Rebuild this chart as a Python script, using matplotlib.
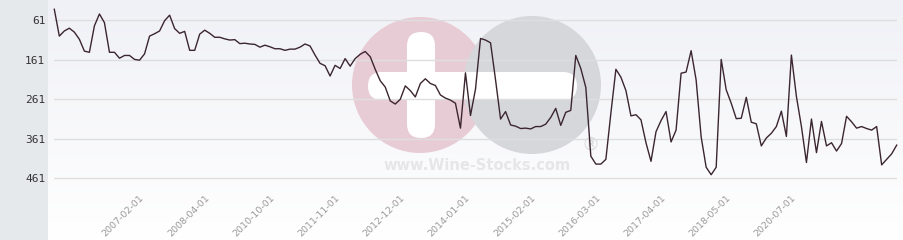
import numpy as np
import matplotlib
matplotlib.use("Agg")
import matplotlib.pyplot as plt
import matplotlib.transforms as mtransforms
from matplotlib.patches import Circle, FancyBboxPatch, Rectangle

# ---- data ----
values = [
    33, 101, 88, 81, 91, 109, 139, 142, 75, 45,
    67, 142, 142, 157, 150, 150, 160, 162, 146, 101,
    95, 88, 62, 48, 82, 94, 89, 137, 137, 96,
    86, 94, 104, 104, 108, 111, 110, 120, 119, 121,
    122, 129, 124, 128, 133, 133, 137, 134, 134, 129,
    121, 126, 149, 170, 176, 202, 175, 183, 158, 177,
    158, 147, 140, 153, 185, 214, 230, 265, 273, 261,
    227, 239, 255, 221, 209, 221, 226, 250, 258, 263,
    271, 334, 194, 302, 235, 107, 111, 118, 212, 311,
    292, 326, 329, 335, 334, 336, 330, 330, 324, 307,
    284, 327, 294, 289, 150, 183, 231, 405, 425, 425,
    413, 296, 185, 205, 239, 303, 300, 313, 371, 418,
    343, 315, 292, 369, 339, 195, 192, 138, 212, 356,
    433, 452, 433, 160, 237, 271, 310, 309, 256, 319,
    323, 379, 359, 347, 330, 291, 355, 149, 254, 330,
    421, 311, 396, 317, 379, 371, 392, 373, 304, 318,
    334, 330, 335, 339, 330, 427, 413, 399, 377,
]
tick_labels = ["2007-02-01", "2008-04-01", "2010-10-01", "2011-11-01",
               "2012-12-01", "2014-01-01", "2015-02-01", "2016-03-01",
               "2017-04-01", "2018-05-01", "2020-07-01"]
label_offset = 17
label_step = 13
y_ticks = [61, 161, 261, 361, 461]

W, H = 904, 240
fig = plt.figure(figsize=(W / 100, H / 100), dpi=100)

# ---- background (pixel coordinates) ----
bg = fig.add_axes([0, 0, 1, 1], zorder=0)
bg.set_xlim(0, W)
bg.set_ylim(H, 0)
bg.axis("off")
top = np.array([240, 241, 246]) / 255.0
bot = np.array([255, 255, 255]) / 255.0
t = np.linspace(0, 1, 240)[:, None]
grad = top[None, :] * (1 - t) + bot[None, :] * t
grad = np.repeat(grad[:, None, :], 2, axis=1)
bg.imshow(grad, extent=(48, W, H, 0), aspect="auto", interpolation="bilinear")
bg.add_patch(Rectangle((0, 0), 48, H, color="#e6e9ec", lw=0))

# watermark
bg.add_patch(Circle((420, 85), 68, color="#e8ccd5", lw=0))
bg.add_patch(Circle((532, 85), 69, color="#d6d7db", lw=0))
bg.add_patch(FancyBboxPatch((407, 32), 28, 106,
                            boxstyle="round,pad=0,rounding_size=14",
                            color="white", lw=0))
bg.add_patch(FancyBboxPatch((368, 72), 209, 28,
                            boxstyle="round,pad=0,rounding_size=14",
                            color="white", lw=0))
bg.text(477, 166, "www.Wine-Stocks.com", ha="center", va="center",
        fontsize=10.5, fontweight="bold", color="#e6e6e8")
bg.text(591, 145, "\u00ae", ha="center", va="center",
        fontsize=13, color="#dadadc")

# ---- main chart ----
left_px, right_px = 54.3, 896.7
top_px, bot_px = 0, 190
ax = fig.add_axes([left_px / W, 1 - bot_px / H,
                   (right_px - left_px) / W, (bot_px - top_px) / H], zorder=1)
ax.patch.set_alpha(0)
n = len(values)
x = np.arange(n)
ax.set_xlim(0, n - 1)
ppu = 0.395
ax.set_ylim(61 + (bot_px - 20.3) / ppu, 61 - (20.3 - top_px) / ppu)

ax.set_yticks(y_ticks)
ax.set_yticklabels([str(v) for v in y_ticks], family="DejaVu Sans Mono",
                   fontsize=8, color="#333333")
for v in y_ticks:
    ax.axhline(v, color="#dedede", lw=1.0, zorder=1)

ax.plot(x, values, color="#3b2630", lw=1.0, zorder=3, clip_on=False)

tick_pos = list(range(label_offset, n, label_step))[:len(tick_labels)]
ax.set_xticks(tick_pos)
ax.set_xticklabels(tick_labels, rotation=45, ha="right", va="top",
                   rotation_mode="anchor", fontsize=6.8, color="#9a9a9a")
shift = mtransforms.ScaledTranslation(-5 / 100, 0, fig.dpi_scale_trans)
for lab in ax.get_xticklabels():
    lab.set_transform(lab.get_transform() + shift)
ax.tick_params(axis="x", length=0, pad=2.5)
ax.tick_params(axis="y", length=0, pad=6.5)
for s in ax.spines.values():
    s.set_visible(False)

fig.savefig("out.png", dpi=100)
